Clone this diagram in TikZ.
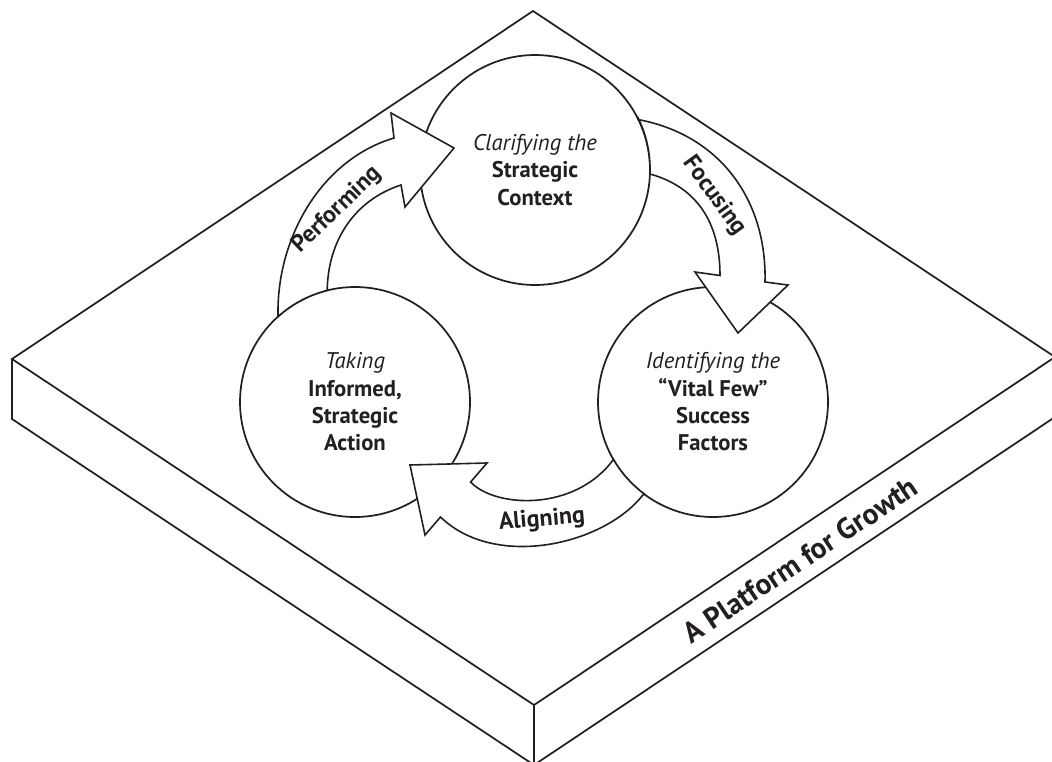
\documentclass[tikz,border=0pt]{standalone}
\usepackage{fontspec}
\setmainfont{PT Sans}
\definecolor{ink}{HTML}{231F20}
\begin{document}
\begin{tikzpicture}[x=0.75pt,y=-0.75pt,
  slab/.style={draw=ink,line width=1.3pt,line join=miter},
  stage/.style={circle,draw=ink,fill=white,line width=1.3pt,minimum size=172.5pt,
    inner sep=0pt,outer sep=0pt,align=center,text=ink,
    font=\fontsize{17}{20.5}\selectfont},
  flow/.style={draw=ink,fill=white,line width=1.2pt,line join=miter},
  flowlabel/.style={font=\bfseries\fontsize{18}{20}\selectfont,text=ink,inner sep=0pt},
  baselabel/.style={font=\bfseries\fontsize{22}{24}\selectfont,text=ink,inner sep=0pt}
]
\clip (0,0) rectangle (1052,761);
\fill[white] (0,0) rectangle (1052,761);
% platform
\coordinate (T) at (533,11);
\coordinate (L) at (12,359);
\coordinate (B) at (534,705);
\coordinate (R) at (1055,357);
\coordinate (Ld) at (12,419);
\coordinate (Bd) at (534,765);
\coordinate (Rd) at (1055,417);
\draw[slab] (T) -- (L) -- (B) -- (R) -- cycle;
\draw[slab] (L) -- (Ld) -- (Bd) -- (Rd) -- (R);
\draw[slab] (B) -- (Bd);
% stages
\node[stage] (clar) at (535,170) {\textit{Clarifying the}\\\textbf{Strategic}\\\textbf{Context}};
\node[stage] (ident) at (713,402) {\textit{Identifying the}\\\textbf{“Vital Few”}\\\textbf{Success}\\\textbf{Factors}};
\node[stage] (take) at (355,402) {\textit{Taking}\\\textbf{Informed,}\\\textbf{Strategic}\\\textbf{Action}};
% Performing
\draw[flow] (take.132.5) .. controls (276,240) and (320,160) .. (394,138)
  -- (391,113) -- (454,148) -- (405,207) -- (401,185)
  .. controls (355,200) and (328,240) .. (take.104)
  arc[start angle=104,end angle=132.5,radius=86.25pt] -- cycle;
% Focusing
\draw[flow] (clar.26.8) .. controls (720,135) and (767,200) .. (765,282)
  -- (788,285) -- (738,333) -- (695,272) -- (720,275.5)
  .. controls (720,215) and (690,185) .. (clar.-2.5)
  arc[start angle=-2.5,end angle=26.8,radius=86.25pt] -- cycle;
% Aligning
\draw[flow] (ident.233.9) .. controls (605,545) and (495,570) .. (440.5,517)
  -- (425,535) -- (410,465) -- (487,463) -- (470.6,482)
  .. controls (495,508) and (575,512) .. (ident.210.2)
  arc[start angle=210.2,end angle=233.9,radius=86.25pt] -- cycle;
% labels
\node[flowlabel,rotate=44] (lperf) at (337,210) {Performing};
\node[flowlabel,rotate=-54] (lfoc) at (714,196) {Focusing};
\node[flowlabel,rotate=5] (lalign) at (542,520) {Aligning};
\node[baselabel,rotate=33.6] (lbase) at (800,560) {A Platform for Growth};
\end{tikzpicture}
\end{document}
